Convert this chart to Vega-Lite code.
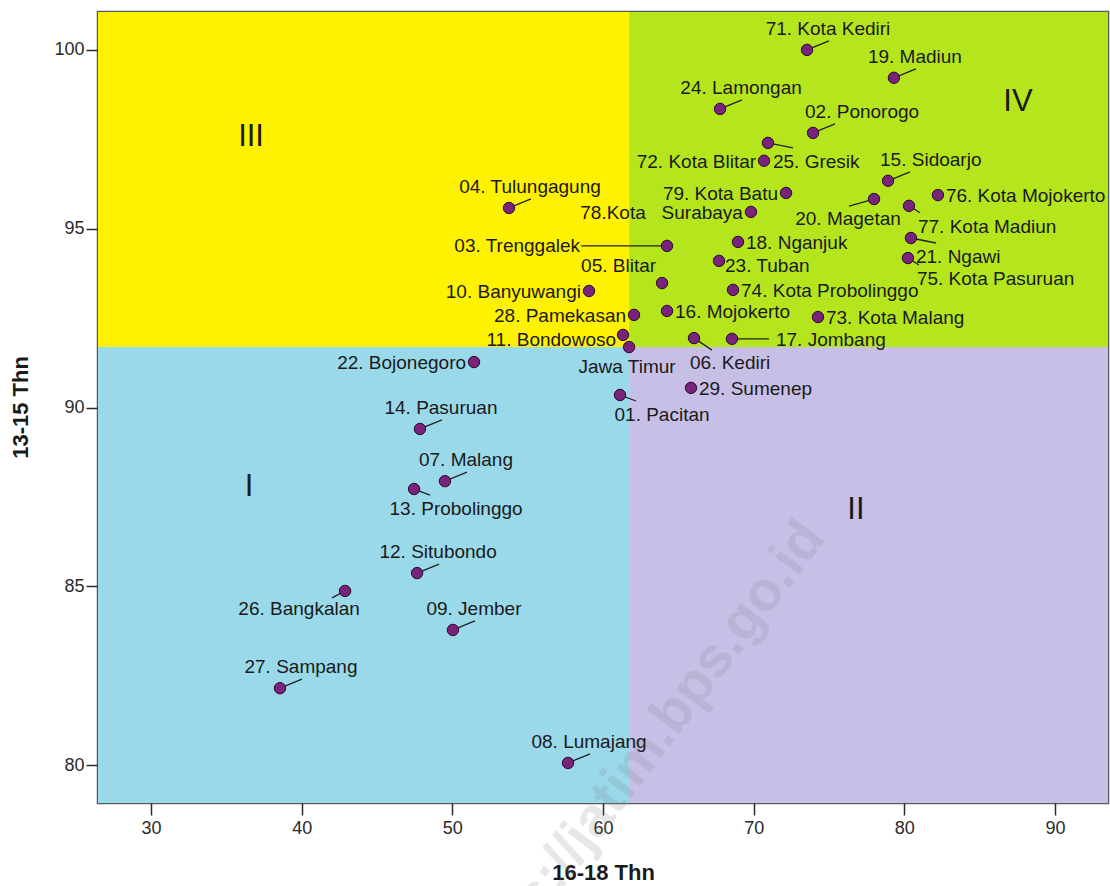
{
  "$schema": "https://vega.github.io/schema/vega-lite/v6.json",
  "width": 1010,
  "height": 791,
  "autosize": {"type": "none"},
  "padding": {"left": 98, "top": 12, "right": 2, "bottom": 83},
  "background": "white",
  "config": {
    "view": {"stroke": "#5a5a5a", "strokeWidth": 2.5},
    "font": "Liberation Sans",
    "axis": {"grid": false, "domain": false, "labelFont": "Liberation Sans", "titleFont": "Liberation Sans", "labelColor": "#2a2a2a", "tickColor": "#2a2a2a", "titleColor": "#1a1a1a"},
    "text": {"font": "Liberation Sans", "fontSize": 19, "color": "#1a1a1a"}
  },
  "datasets": {
    "points": [
      {"name": "71. Kota Kediri", "x": 73.54, "y": 100.0, "pos": "above"},
      {"name": "19. Madiun", "x": 79.31, "y": 99.22, "pos": "above"},
      {"name": "24. Lamongan", "x": 67.77, "y": 98.35, "pos": "above"},
      {"name": "02. Ponorogo", "x": 73.94, "y": 97.68, "pos": "above-start"},
      {"name": "25. Gresik", "x": 70.95, "y": 97.40, "pos": "below-start-long"},
      {"name": "72. Kota Blitar", "x": 70.69, "y": 96.90, "pos": "left"},
      {"name": "15. Sidoarjo", "x": 78.92, "y": 96.34, "pos": "above-start"},
      {"name": "79. Kota Batu", "x": 72.15, "y": 96.00, "pos": "left"},
      {"name": "76. Kota Mojokerto", "x": 82.23, "y": 95.94, "pos": "right"},
      {"name": "20. Magetan", "x": 77.99, "y": 95.83, "pos": "below-left-near"},
      {"name": "77. Kota Madiun", "x": 80.31, "y": 95.64, "pos": "below-start"},
      {"name": "78.Kota\u00a0\u00a0 Surabaya", "x": 69.82, "y": 95.47, "pos": "left"},
      {"name": "03. Trenggalek", "x": 64.25, "y": 94.52, "pos": "far-left"},
      {"name": "18. Nganjuk", "x": 68.96, "y": 94.63, "pos": "right"},
      {"name": "21. Ngawi", "x": 80.44, "y": 94.74, "pos": "below-start-long"},
      {"name": "75. Kota Pasuruan", "x": 80.24, "y": 94.18, "pos": "below-start"},
      {"name": "05. Blitar", "x": 63.92, "y": 93.48, "pos": "upper-left"},
      {"name": "23. Tuban", "x": 67.70, "y": 94.10, "pos": "right-low"},
      {"name": "10. Banyuwangi", "x": 59.07, "y": 93.26, "pos": "left"},
      {"name": "74. Kota Probolinggo", "x": 68.63, "y": 93.29, "pos": "right"},
      {"name": "28. Pamekasan", "x": 62.06, "y": 92.59, "pos": "left"},
      {"name": "16. Mojokerto", "x": 64.25, "y": 92.70, "pos": "right"},
      {"name": "73. Kota Malang", "x": 74.27, "y": 92.53, "pos": "right"},
      {"name": "11. Bondowoso", "x": 61.33, "y": 92.03, "pos": "left-low"},
      {"name": "Jawa Timur", "x": 61.73, "y": 91.69, "pos": "below"},
      {"name": "06. Kediri", "x": 66.04, "y": 91.94, "pos": "below-right-low"},
      {"name": "17. Jombang", "x": 68.56, "y": 91.92, "pos": "right-long"},
      {"name": "22. Bojonegoro", "x": 51.44, "y": 91.27, "pos": "left"},
      {"name": "29. Sumenep", "x": 65.84, "y": 90.55, "pos": "right"},
      {"name": "01. Pacitan", "x": 61.13, "y": 90.35, "pos": "below-right"},
      {"name": "14. Pasuruan", "x": 47.85, "y": 89.40, "pos": "above"},
      {"name": "07. Malang", "x": 49.51, "y": 87.94, "pos": "above"},
      {"name": "13. Probolinggo", "x": 47.46, "y": 87.72, "pos": "below-right"},
      {"name": "12. Situbondo", "x": 47.66, "y": 85.37, "pos": "above"},
      {"name": "26. Bangkalan", "x": 42.88, "y": 84.87, "pos": "below-left"},
      {"name": "09. Jember", "x": 50.04, "y": 83.78, "pos": "above"},
      {"name": "27. Sampang", "x": 38.56, "y": 82.15, "pos": "above"},
      {"name": "08. Lumajang", "x": 57.68, "y": 80.06, "pos": "above"},
      {"name": "04. Tulungagung", "x": 53.76, "y": 95.58, "pos": "above"}
    ],
    "quadrants": [
      {"q": "I", "x": 26.48, "x2": 61.73, "y": 78.94, "y2": 91.69},
      {"q": "II", "x": 61.73, "x2": 93.52, "y": 78.94, "y2": 91.69},
      {"q": "III", "x": 26.48, "x2": 61.73, "y": 91.69, "y2": 101.06},
      {"q": "IV", "x": 61.73, "x2": 93.52, "y": 91.69, "y2": 101.06}
    ],
    "numerals": [
      {"q": "III", "x": 36.64, "y": 97.57},
      {"q": "IV", "x": 87.54, "y": 98.55},
      {"q": "I", "x": 36.51, "y": 87.78},
      {"q": "II", "x": 76.79, "y": 87.13}
    ],
    "watermark": [
      {"t": "https://jatim.bps.go.id", "x": 73.94, "y": 86.63}
    ]
  },
  "layer": [
    {
      "data": {"name": "quadrants"},
      "mark": {"type": "rect"},
      "encoding": {
        "x": {"field": "x", "type": "quantitative", "scale": {"domain": [26.48, 93.52], "nice": false, "zero": false},
              "axis": {"values": [30, 40, 50, 60, 70, 80, 90], "tickSize": 12, "tickWidth": 1.5, "labelFontSize": 18, "labelPadding": 4, "title": "16-18 Thn", "titleFontSize": 22, "titleFontWeight": "bold", "titleY": 69, "titleBaseline": "middle"}},
        "x2": {"field": "x2"},
        "y": {"field": "y", "type": "quantitative", "scale": {"domain": [78.94, 101.06], "nice": false, "zero": false},
              "axis": {"values": [80, 85, 90, 95, 100], "tickSize": 12, "tickWidth": 1.5, "labelFontSize": 18, "labelPadding": 2, "title": "13-15 Thn", "titleFontSize": 22, "titleFontWeight": "bold", "titleX": -78, "titleY": 395, "titleAngle": -90, "titleAlign": "center", "titleBaseline": "middle"}},
        "y2": {"field": "y2"},
        "color": {"field": "q", "type": "nominal", "scale": {"domain": ["I", "II", "III", "IV"], "range": ["#99d9ea", "#c8bfe7", "#fff200", "#b5e61d"]}, "legend": null}
      }
    },
    {
      "data": {"name": "watermark"},
      "mark": {"type": "text", "fontSize": 56, "fontWeight": "bold", "color": "#808080", "opacity": 0.18, "angle": -53, "align": "right", "baseline": "middle"},
      "encoding": {"x": {"field": "x", "type": "quantitative"}, "y": {"field": "y", "type": "quantitative"}, "text": {"field": "t"}}
    },
    {
      "data": {"name": "points"},
      "layer": [
        {"transform": [{"filter": "datum.pos === 'above' || datum.pos === 'above-start'"}],
         "mark": {"type": "rule", "x2Offset": 22, "y2Offset": -9, "color": "#222", "strokeWidth": 1.3},
         "encoding": {"x": {"field": "x", "type": "quantitative"}, "y": {"field": "y", "type": "quantitative"}, "x2": {"field": "x"}, "y2": {"field": "y"}}},
        {"transform": [{"filter": "datum.pos === 'below-start'"}],
         "mark": {"type": "rule", "x2Offset": 11, "y2Offset": 7, "color": "#222", "strokeWidth": 1.3},
         "encoding": {"x": {"field": "x", "type": "quantitative"}, "y": {"field": "y", "type": "quantitative"}, "x2": {"field": "x"}, "y2": {"field": "y"}}},
        {"transform": [{"filter": "datum.pos === 'below-start-long'"}],
         "mark": {"type": "rule", "x2Offset": 25, "y2Offset": 5, "color": "#222", "strokeWidth": 1.3},
         "encoding": {"x": {"field": "x", "type": "quantitative"}, "y": {"field": "y", "type": "quantitative"}, "x2": {"field": "x"}, "y2": {"field": "y"}}},
        {"transform": [{"filter": "datum.pos === 'below-right'"}],
         "mark": {"type": "rule", "x2Offset": 16, "y2Offset": 6, "color": "#222", "strokeWidth": 1.3},
         "encoding": {"x": {"field": "x", "type": "quantitative"}, "y": {"field": "y", "type": "quantitative"}, "x2": {"field": "x"}, "y2": {"field": "y"}}},
        {"transform": [{"filter": "datum.pos === 'below-right-low'"}],
         "mark": {"type": "rule", "x2Offset": 18, "y2Offset": 12, "color": "#222", "strokeWidth": 1.3},
         "encoding": {"x": {"field": "x", "type": "quantitative"}, "y": {"field": "y", "type": "quantitative"}, "x2": {"field": "x"}, "y2": {"field": "y"}}},
        {"transform": [{"filter": "datum.pos === 'below-left'"}],
         "mark": {"type": "rule", "x2Offset": -13, "y2Offset": 7, "color": "#222", "strokeWidth": 1.3},
         "encoding": {"x": {"field": "x", "type": "quantitative"}, "y": {"field": "y", "type": "quantitative"}, "x2": {"field": "x"}, "y2": {"field": "y"}}},
        {"transform": [{"filter": "datum.pos === 'below-left-near'"}],
         "mark": {"type": "rule", "x2Offset": -25, "y2Offset": 7, "color": "#222", "strokeWidth": 1.3},
         "encoding": {"x": {"field": "x", "type": "quantitative"}, "y": {"field": "y", "type": "quantitative"}, "x2": {"field": "x"}, "y2": {"field": "y"}}},
        {"transform": [{"filter": "datum.pos === 'far-left'"}],
         "mark": {"type": "rule", "x2Offset": -86, "y2Offset": 0, "color": "#222", "strokeWidth": 1.3},
         "encoding": {"x": {"field": "x", "type": "quantitative"}, "y": {"field": "y", "type": "quantitative"}, "x2": {"field": "x"}, "y2": {"field": "y"}}},
        {"transform": [{"filter": "datum.pos === 'right-long'"}],
         "mark": {"type": "rule", "x2Offset": 37, "y2Offset": 0, "color": "#222", "strokeWidth": 1.3},
         "encoding": {"x": {"field": "x", "type": "quantitative"}, "y": {"field": "y", "type": "quantitative"}, "x2": {"field": "x"}, "y2": {"field": "y"}}},
        {"mark": {"type": "point", "shape": "circle", "filled": true, "size": 130, "fill": "#7a237b", "stroke": "#2a0a2a", "strokeWidth": 1, "opacity": 1},
         "encoding": {"x": {"field": "x", "type": "quantitative"}, "y": {"field": "y", "type": "quantitative"}}},
        {"transform": [{"filter": "datum.pos === 'above'"}],
         "mark": {"type": "text", "align": "center", "baseline": "middle", "dx": 21, "dy": -21},
         "encoding": {"x": {"field": "x", "type": "quantitative"}, "y": {"field": "y", "type": "quantitative"}, "text": {"field": "name"}}},
        {"transform": [{"filter": "datum.pos === 'above-start'"}],
         "mark": {"type": "text", "align": "left", "baseline": "middle", "dx": -8, "dy": -21},
         "encoding": {"x": {"field": "x", "type": "quantitative"}, "y": {"field": "y", "type": "quantitative"}, "text": {"field": "name"}}},
        {"transform": [{"filter": "datum.pos === 'left'"}],
         "mark": {"type": "text", "align": "right", "baseline": "middle", "dx": -8, "dy": 1},
         "encoding": {"x": {"field": "x", "type": "quantitative"}, "y": {"field": "y", "type": "quantitative"}, "text": {"field": "name"}}},
        {"transform": [{"filter": "datum.pos === 'left-low'"}],
         "mark": {"type": "text", "align": "right", "baseline": "middle", "dx": -7, "dy": 5},
         "encoding": {"x": {"field": "x", "type": "quantitative"}, "y": {"field": "y", "type": "quantitative"}, "text": {"field": "name"}}},
        {"transform": [{"filter": "datum.pos === 'right'"}],
         "mark": {"type": "text", "align": "left", "baseline": "middle", "dx": 8, "dy": 1},
         "encoding": {"x": {"field": "x", "type": "quantitative"}, "y": {"field": "y", "type": "quantitative"}, "text": {"field": "name"}}},
        {"transform": [{"filter": "datum.pos === 'right-low'"}],
         "mark": {"type": "text", "align": "left", "baseline": "middle", "dx": 6, "dy": 5},
         "encoding": {"x": {"field": "x", "type": "quantitative"}, "y": {"field": "y", "type": "quantitative"}, "text": {"field": "name"}}},
        {"transform": [{"filter": "datum.pos === 'right-long'"}],
         "mark": {"type": "text", "align": "left", "baseline": "middle", "dx": 44, "dy": 1},
         "encoding": {"x": {"field": "x", "type": "quantitative"}, "y": {"field": "y", "type": "quantitative"}, "text": {"field": "name"}}},
        {"transform": [{"filter": "datum.pos === 'below-start'"}],
         "mark": {"type": "text", "align": "left", "baseline": "middle", "dx": 9, "dy": 21},
         "encoding": {"x": {"field": "x", "type": "quantitative"}, "y": {"field": "y", "type": "quantitative"}, "text": {"field": "name"}}},
        {"transform": [{"filter": "datum.pos === 'below-start-long'"}],
         "mark": {"type": "text", "align": "left", "baseline": "middle", "dx": 5, "dy": 19},
         "encoding": {"x": {"field": "x", "type": "quantitative"}, "y": {"field": "y", "type": "quantitative"}, "text": {"field": "name"}}},
        {"transform": [{"filter": "datum.pos === 'below-right'"}],
         "mark": {"type": "text", "align": "center", "baseline": "middle", "dx": 42, "dy": 20},
         "encoding": {"x": {"field": "x", "type": "quantitative"}, "y": {"field": "y", "type": "quantitative"}, "text": {"field": "name"}}},
        {"transform": [{"filter": "datum.pos === 'below-right-low'"}],
         "mark": {"type": "text", "align": "left", "baseline": "middle", "dx": -4, "dy": 25},
         "encoding": {"x": {"field": "x", "type": "quantitative"}, "y": {"field": "y", "type": "quantitative"}, "text": {"field": "name"}}},
        {"transform": [{"filter": "datum.pos === 'below-left'"}],
         "mark": {"type": "text", "align": "center", "baseline": "middle", "dx": -46, "dy": 18},
         "encoding": {"x": {"field": "x", "type": "quantitative"}, "y": {"field": "y", "type": "quantitative"}, "text": {"field": "name"}}},
        {"transform": [{"filter": "datum.pos === 'below-left-near'"}],
         "mark": {"type": "text", "align": "center", "baseline": "middle", "dx": -26, "dy": 20},
         "encoding": {"x": {"field": "x", "type": "quantitative"}, "y": {"field": "y", "type": "quantitative"}, "text": {"field": "name"}}},
        {"transform": [{"filter": "datum.pos === 'below'"}],
         "mark": {"type": "text", "align": "center", "baseline": "middle", "dx": -2, "dy": 20},
         "encoding": {"x": {"field": "x", "type": "quantitative"}, "y": {"field": "y", "type": "quantitative"}, "text": {"field": "name"}}},
        {"transform": [{"filter": "datum.pos === 'far-left'"}],
         "mark": {"type": "text", "align": "right", "baseline": "middle", "dx": -87, "dy": 0},
         "encoding": {"x": {"field": "x", "type": "quantitative"}, "y": {"field": "y", "type": "quantitative"}, "text": {"field": "name"}}},
        {"transform": [{"filter": "datum.pos === 'upper-left'"}],
         "mark": {"type": "text", "align": "right", "baseline": "middle", "dx": -6, "dy": -17},
         "encoding": {"x": {"field": "x", "type": "quantitative"}, "y": {"field": "y", "type": "quantitative"}, "text": {"field": "name"}}}
      ]
    },
    {
      "mark": {"type": "rule", "color": "#ee2a3a", "strokeWidth": 2.2},
      "encoding": {"x": {"datum": 61.73, "type": "quantitative"}}
    },
    {
      "mark": {"type": "rule", "color": "#ee2a3a", "strokeWidth": 2.2},
      "encoding": {"y": {"datum": 91.69, "type": "quantitative"}}
    },
    {
      "data": {"name": "numerals"},
      "mark": {"type": "text", "fontSize": 31, "align": "center", "baseline": "middle", "color": "#1a1a1a"},
      "encoding": {"x": {"field": "x", "type": "quantitative"}, "y": {"field": "y", "type": "quantitative"}, "text": {"field": "q"}}
    }
  ]
}
